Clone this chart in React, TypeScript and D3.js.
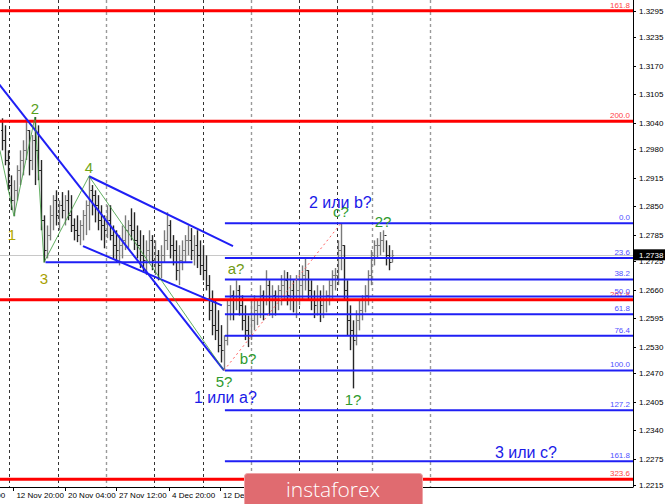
import * as d3 from "d3";
import { useEffect, useRef } from "react";

// H4 bars (price units)
const priceHigh = [
    1.305, 1.3034, 1.2977, 1.292, 1.2909, 1.2943, 1.2977, 1.3, 1.305, 1.3023,
    1.3012, 1.3053, 1.3034, 1.2955, 1.2829, 1.2806, 1.2852, 1.2875, 1.2886, 1.2863,
    1.2882, 1.2875, 1.2886, 1.2875, 1.2822, 1.2829, 1.2818, 1.2841, 1.2863, 1.2918,
    1.2898, 1.2886, 1.2875, 1.2852, 1.2829, 1.2852, 1.2852, 1.2806, 1.2795, 1.2784,
    1.2806, 1.2829, 1.2818, 1.2845, 1.2836, 1.2806, 1.2795, 1.2784, 1.2772, 1.2795,
    1.2784, 1.2772, 1.275, 1.2761, 1.2795, 1.2836, 1.2818, 1.2784, 1.2772, 1.2761,
    1.2772, 1.2784, 1.2806, 1.28, 1.2784, 1.2795, 1.2772, 1.2761, 1.2738, 1.2693,
    1.2658, 1.2636, 1.2613, 1.2579, 1.2556, 1.2636, 1.267, 1.2658, 1.2681, 1.267,
    1.2647, 1.2624, 1.2601, 1.2636, 1.2647, 1.2636, 1.267, 1.2658, 1.2704, 1.2681,
    1.267, 1.2658, 1.267, 1.2693, 1.2704, 1.27, 1.2693, 1.2681, 1.2693, 1.2704,
    1.2715, 1.2734, 1.2704, 1.2681, 1.2658, 1.267, 1.2658, 1.267, 1.2658, 1.2681,
    1.2704, 1.2709, 1.2772, 1.2811, 1.2761, 1.2681, 1.2624, 1.259, 1.2613, 1.2636,
    1.2647, 1.267, 1.2704, 1.275, 1.2772, 1.2777, 1.2791, 1.2795, 1.2772, 1.2761,
    1.275,
];
const priceLow = [
    1.2977, 1.2943, 1.2886, 1.2841, 1.2827, 1.2863, 1.2898, 1.292, 1.2955, 1.292,
    1.2932, 1.2898, 1.2909, 1.2795, 1.2722, 1.2731, 1.2772, 1.2795, 1.2806, 1.2795,
    1.2822, 1.2806, 1.2818, 1.2791, 1.2772, 1.2768, 1.2761, 1.2772, 1.2784, 1.2795,
    1.2829, 1.2813, 1.2795, 1.2772, 1.2754, 1.2777, 1.2772, 1.2731, 1.2722, 1.2715,
    1.2731, 1.275, 1.2754, 1.2772, 1.275, 1.2731, 1.2709, 1.27, 1.2693, 1.2722,
    1.2704, 1.2693, 1.2681, 1.2686, 1.2722, 1.275, 1.2731, 1.2715, 1.2681, 1.267,
    1.2704, 1.2722, 1.2738, 1.2727, 1.2715, 1.2709, 1.2693, 1.2681, 1.2658, 1.259,
    1.2556, 1.2545, 1.2517, 1.2494, 1.2476, 1.2533, 1.259, 1.259, 1.2613, 1.2601,
    1.2567, 1.2545, 1.2529, 1.2545, 1.2567, 1.2579, 1.2595, 1.259, 1.2624, 1.2601,
    1.2595, 1.2601, 1.2613, 1.2624, 1.2636, 1.2624, 1.2613, 1.2608, 1.2595, 1.2624,
    1.2636, 1.2658, 1.2636, 1.2613, 1.2595, 1.2601, 1.2586, 1.2595, 1.2608, 1.2624,
    1.2636, 1.2658, 1.267, 1.2704, 1.2636, 1.2556, 1.2522, 1.2435, 1.2533, 1.2567,
    1.259, 1.2608, 1.2624, 1.267, 1.2715, 1.2731, 1.2738, 1.2745, 1.2715, 1.2704,
    1.2722,
];
const priceClose = [
    1.3, 1.2955, 1.2898, 1.2863, 1.2886, 1.2932, 1.2955, 1.2977, 1.3023, 1.2955,
    1.3, 1.2977, 1.2932, 1.2818, 1.275, 1.2784, 1.2829, 1.2863, 1.2829, 1.2852,
    1.2841, 1.2863, 1.2829, 1.2806, 1.2795, 1.2784, 1.2806, 1.2829, 1.2852, 1.2886,
    1.2875, 1.2852, 1.2818, 1.2806, 1.2795, 1.2818, 1.2784, 1.2761, 1.275, 1.2761,
    1.2772, 1.2795, 1.2806, 1.2795, 1.2772, 1.2761, 1.2738, 1.2727, 1.275, 1.2772,
    1.2727, 1.2738, 1.2715, 1.2738, 1.2772, 1.2806, 1.2761, 1.275, 1.2704, 1.2727,
    1.275, 1.2772, 1.2772, 1.275, 1.2761, 1.2738, 1.2715, 1.2704, 1.267, 1.2613,
    1.2579, 1.2567, 1.2533, 1.2522, 1.2545, 1.2624, 1.2647, 1.2636, 1.2658, 1.2624,
    1.259, 1.2567, 1.2556, 1.259, 1.2613, 1.2624, 1.2647, 1.2636, 1.267, 1.2636,
    1.2647, 1.2636, 1.2658, 1.267, 1.2681, 1.2647, 1.2658, 1.2636, 1.2658, 1.267,
    1.2693, 1.2704, 1.2658, 1.2636, 1.2624, 1.2636, 1.2624, 1.2636, 1.2647, 1.267,
    1.2693, 1.2693, 1.275, 1.2761, 1.2658, 1.259, 1.2567, 1.2545, 1.259, 1.2613,
    1.2636, 1.2647, 1.2693, 1.2738, 1.2761, 1.2761, 1.2772, 1.2784, 1.2738, 1.2722,
    1.2738,
];
const firstOpen = 1.3023;
const bidPrice = 1.2738;

// right price scale labels
const priceTicks = [
    "1.3295", "1.3235", "1.3170", "1.3105", "1.3040", "1.2980", "1.2915", "1.2850", "1.2785",
    "1.2725", "1.2660", "1.2595", "1.2530", "1.2470", "1.2405", "1.2340", "1.2275", "1.2215",
];

// time labels (bar index of their tick)
const timeLabels = ["5 Nov 12:00", "12 Nov 20:00", "20 Nov 04:00", "27 Nov 12:00", "4 Dec 20:00", "12 Dec 04:00"];
const timeLabelBars = [-14.3, 3.8, 21, 38, 55.7, 72.7];

// vertical separators (bar index) and whether they are the light ones
const gridBars = [2.4, 18.6, 34.7, 50.8, 66.9, 83, 99.1, 111.6, 123.2, 142.7];
const gridLight = [false, false, true, false, false, true, false, false, true, true];

// blue fibo grid
const fiboLabels = ["0.0", "23.6", "38.2", "50.0", "61.8", "76.4", "100.0", "127.2", "161.8"];
const fiboPrices = [1.2811, 1.2732, 1.2683, 1.2644, 1.2604, 1.2555, 1.2476, 1.2385, 1.2269];
const fiboStartBar = 74.3;

// red fibo expansion levels
const redLabels = ["161.8", "200.0", "261.8", "323.6"];
const redPrices = [1.3295, 1.3043, 1.2637, 1.2228];

// trend lines: [bar1, price1, bar2, price2]
const trendLines = [
    [-3, 1.3145, 74, 1.2476],
    [29, 1.2918, 77, 1.2759],
    [27, 1.2759, 73.3, 1.2624],
    [14.5, 1.2722, 63.5, 1.2722],
];

// wave counting
const waveBars = [-0.7, 4, 11, 14, 29, 74];
const wavePrices = [1.2977, 1.2827, 1.3053, 1.2722, 1.2918, 1.2476];
const dottedLine = [74, 1.2476, 113, 1.2811];

const waveLabels = ["1", "2", "3", "4", "5?", "a?", "b?", "c?", "1?", "2?"];
const waveLabelBars = [3.3, 11, 14, 29, 74, 78, 82, 113, 117, 127];
const waveLabelPrices = [1.2812, 1.3053, 1.2711, 1.2918, 1.2476, 1.2688, 1.2529, 1.2818, 1.2435, 1.2795];
const waveLabelColors = ["#b3a800", "#58a01c", "#a8a000", "#6fa516", "#2e9a2e", "#6f9a12", "#2e9a2e", "#2e9a2e", "#2e9a2e", "#2e9a2e"];

const noteTexts = ["2 или b?", "1 или а?", "3 или с?"];
const noteBars = [102.3, 64, 164.3];
const notePrices = [1.2845, 1.2401, 1.2276];

const W = 665;
const H = 504;
const plotRight = 633;
const plotBottom = 487;

function drawChart(svgEl: SVGSVGElement) {
    const svg = d3.select(svgEl);
    svg.selectAll("*").remove();

    const x = d3.scaleLinear().domain([0, 130]).range([2, 392]);
    const y = d3.scaleLinear().domain([1.2215, 1.3295]).range([485, 10.7]);
    const px = (v: number) => Math.round(x(v)) + 0.5;

    svg.append("rect").attr("width", W).attr("height", H).attr("fill", "#fff");

    const plot = svg.append("g");

    // separators
    plot.selectAll(".grid")
        .data(gridBars)
        .join("line")
        .attr("x1", (d) => px(d))
        .attr("x2", (d) => px(d))
        .attr("y1", 0)
        .attr("y2", plotBottom)
        .attr("stroke", (d, i) => (gridLight[i] ? "#9a9a9a" : "#333"))
        .attr("stroke-width", (d, i) => (gridLight[i] ? 1.4 : 1))
        .attr("stroke-dasharray", "3,3");

    // bid line
    plot.append("line")
        .attr("x1", 0).attr("x2", plotRight)
        .attr("y1", Math.round(y(bidPrice)) + 0.5).attr("y2", Math.round(y(bidPrice)) + 0.5)
        .attr("stroke", "#c8c8c8");

    // bars
    const bars = plot.append("g");
    priceHigh.forEach((hi, i) => {
        const open = i === 0 ? firstOpen : priceClose[i - 1];
        const close = priceClose[i];
        const col = close >= open ? "#7a7a7a" : "#262626";
        const cx = px(i);
        bars.append("line").attr("x1", cx).attr("x2", cx)
            .attr("y1", y(hi)).attr("y2", y(priceLow[i]))
            .attr("stroke", col).attr("stroke-width", 1.4);
        bars.append("line").attr("x1", cx - 1.5).attr("x2", cx)
            .attr("y1", Math.round(y(open)) + 0.5).attr("y2", Math.round(y(open)) + 0.5)
            .attr("stroke", col);
        bars.append("line").attr("x1", cx).attr("x2", cx + 1.5)
            .attr("y1", Math.round(y(close)) + 0.5).attr("y2", Math.round(y(close)) + 0.5)
            .attr("stroke", col);
    });

    // red levels
    plot.selectAll(".red")
        .data(redPrices)
        .join("line")
        .attr("x1", 0).attr("x2", plotRight)
        .attr("y1", (d) => y(d)).attr("y2", (d) => y(d))
        .attr("stroke", "#ff0000").attr("stroke-width", 3);
    plot.selectAll(".redlbl")
        .data(redPrices)
        .join("text")
        .attr("x", plotRight - 3).attr("y", (d) => y(d) - 3)
        .attr("text-anchor", "end")
        .style("font-family", "Liberation Sans, Arial, sans-serif")
        .style("font-size", "8px")
        .style("fill", "#ff4444")
        .text((d, i) => redLabels[i]);

    // blue fibo
    plot.selectAll(".fibo")
        .data(fiboPrices)
        .join("line")
        .attr("x1", x(fiboStartBar)).attr("x2", plotRight)
        .attr("y1", (d) => y(d)).attr("y2", (d) => y(d))
        .attr("stroke", "#1f1ff5").attr("stroke-width", 2);
    plot.selectAll(".fibolbl")
        .data(fiboPrices)
        .join("text")
        .attr("x", plotRight - 3).attr("y", (d) => y(d) - 3)
        .attr("text-anchor", "end")
        .style("font-family", "Liberation Sans, Arial, sans-serif")
        .style("font-size", "8px")
        .style("fill", "#5050ff")
        .text((d, i) => fiboLabels[i]);

    // trend lines
    plot.selectAll(".trend")
        .data(trendLines)
        .join("line")
        .attr("x1", (d) => x(d[0])).attr("y1", (d) => y(d[1]))
        .attr("x2", (d) => x(d[2])).attr("y2", (d) => y(d[3]))
        .attr("stroke", "#1f1ff5").attr("stroke-width", 2);

    // wave zigzag
    const zig = d3.line<number>()
        .x((d, i) => x(waveBars[i]))
        .y((d) => y(d));
    plot.append("path")
        .attr("d", zig(wavePrices))
        .attr("fill", "none")
        .attr("stroke", "#3a9a3a")
        .attr("stroke-width", 0.8);

    plot.append("line")
        .attr("x1", x(dottedLine[0])).attr("y1", y(dottedLine[1]))
        .attr("x2", x(dottedLine[2])).attr("y2", y(dottedLine[3]))
        .attr("stroke", "#ff6060").attr("stroke-width", 1)
        .attr("stroke-dasharray", "2,3");

    // wave labels: lows below, highs above
    plot.selectAll(".wave")
        .data(waveLabels)
        .join("text")
        .attr("x", (d, i) => x(waveLabelBars[i]))
        .attr("y", (d, i) => y(waveLabelPrices[i]) + (i % 2 === 0 ? 17 : -3))
        .attr("text-anchor", "middle")
        .style("font-family", "Liberation Sans, Arial, sans-serif")
        .style("font-size", "15px")
        .style("fill", (d, i) => waveLabelColors[i])
        .text((d) => d);

    plot.selectAll(".note")
        .data(noteTexts)
        .join("text")
        .attr("x", (d, i) => x(noteBars[i]))
        .attr("y", (d, i) => y(notePrices[i]))
        .style("font-family", "Liberation Sans, Arial, sans-serif")
        .style("font-size", "16px")
        .style("fill", "#1a1ae8")
        .text((d) => d);

    // axes
    const axis = svg.append("g");
    axis.append("line")
        .attr("x1", plotRight + 0.5).attr("x2", plotRight + 0.5)
        .attr("y1", 0).attr("y2", plotBottom)
        .attr("stroke", "#000");
    axis.append("line")
        .attr("x1", 0).attr("x2", plotRight + 0.5)
        .attr("y1", plotBottom + 0.5).attr("y2", plotBottom + 0.5)
        .attr("stroke", "#000");

    axis.selectAll(".ytick")
        .data(priceTicks)
        .join("line")
        .attr("x1", plotRight).attr("x2", plotRight + 3)
        .attr("y1", (d) => Math.round(y(+d)) + 0.5).attr("y2", (d) => Math.round(y(+d)) + 0.5)
        .attr("stroke", "#000");
    axis.selectAll(".ylbl")
        .data(priceTicks)
        .join("text")
        .attr("x", plotRight + 6).attr("y", (d) => y(+d) + 3)
        .style("font-family", "Liberation Sans, Arial, sans-serif")
        .style("font-size", "8px")
        .style("fill", "#000")
        .text((d) => d);

    // bid box
    const by = y(bidPrice);
    axis.append("rect")
        .attr("x", plotRight + 1).attr("y", by - 6)
        .attr("width", W - plotRight - 1).attr("height", 11)
        .attr("fill", "#000");
    axis.append("text")
        .attr("x", plotRight + 6).attr("y", by + 3)
        .style("font-family", "Liberation Sans, Arial, sans-serif")
        .style("font-size", "8px")
        .style("fill", "#fff")
        .text(bidPrice.toFixed(4));

    axis.selectAll(".xtick")
        .data(timeLabelBars)
        .join("line")
        .attr("x1", (d) => px(d)).attr("x2", (d) => px(d))
        .attr("y1", plotBottom).attr("y2", plotBottom + 4)
        .attr("stroke", "#000");
    axis.selectAll(".xlbl")
        .data(timeLabels)
        .join("text")
        .attr("x", (d, i) => x(timeLabelBars[i]) + 3)
        .attr("y", 498)
        .style("font-family", "Liberation Sans, Arial, sans-serif")
        .style("font-size", "8px")
        .style("fill", "#000")
        .text((d) => d);

    // watermark
    svg.append("rect")
        .attr("x", 244.5).attr("y", 473.5)
        .attr("width", 178).attr("height", 40)
        .attr("rx", 3)
        .attr("fill", "#e06b70")
        .attr("stroke", "#eea5a8");
    svg.append("text")
        .attr("x", 333).attr("y", 497)
        .attr("text-anchor", "middle")
        .style("font-family", "Open Sans, Liberation Sans, sans-serif")
        .style("font-size", "21px")
        .style("font-weight", 300)
        .style("fill", "#fff")
        .text("instaforex");
}

export default function App() {
    const chartRef = useRef<SVGSVGElement | null>(null);

    useEffect(() => {
        if (chartRef.current) drawChart(chartRef.current);
    }, []);

    return (
        <svg
            ref={chartRef}
            width={W}
            height={H}
            style={{ position: "fixed", left: 0, top: 0, display: "block" }}
        ></svg>
    );
}
